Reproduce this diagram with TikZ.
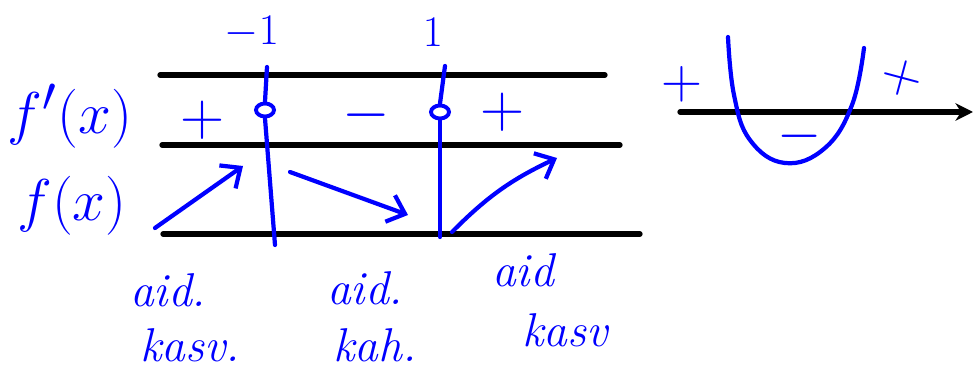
\documentclass[tikz,border=0pt]{standalone}
\usepackage{amsmath}
\usepackage{graphicx}
\usepackage{xcolor}
\usepackage{tikz}
\usetikzlibrary{shapes.geometric, arrows.meta, positioning, calc}

\begin{document}
\begin{tikzpicture}[
    x=0.02cm, y=-0.02cm,
    node distance=0.3cm and 0.5cm,
    rule/.style={draw=black, line width=3pt, line cap=round},
    ink/.style={draw=blue, line width=2.4pt, line cap=round, line join=round},
    sign/.style={text=blue, font=\fontsize{24.88}{28}\selectfont, inner sep=0pt},
    label/.style={text=blue, font=\fontsize{24.88}{28}\selectfont, inner sep=0pt},
    note/.style={text=blue, font=\fontsize{27}{28}\selectfont\itshape, inner sep=0pt},
    trend/.style={ink, -{Straight Barb[length=9pt, width=16pt, line width=2.4pt]}},
    zero/.style={ellipse, draw=blue, line width=2.2pt, minimum width=0.36cm, minimum height=0.26cm, inner sep=0pt}
]
    \useasboundingbox (0,0) rectangle (975,374);

    % Table rows
    \coordinate (r1a) at (160,75);  \coordinate (r1b) at (605,75);
    \coordinate (r2a) at (162,145); \coordinate (r2b) at (620,145);
    \coordinate (r3a) at (163,234); \coordinate (r3b) at (640,234);
    \draw[rule] (r1a) -- (r1b);
    \draw[rule] (r2a) -- (r2b);
    \draw[rule] (r3a) -- (r3b);

    % Zeros of f'
    \node[sign] (xm) at (252,32) {$-1$};
    \node[sign] (xp) at (433,32) {$1$};
    \node[zero] (zm) at (265,110) {};
    \node[zero] (zp) at (440,112) {};
    \coordinate (zmtop) at (267,67);  \coordinate (zmbot) at (275,245);
    \coordinate (zptop) at (445,66);  \coordinate (zpbot) at (440,237);
    \draw[ink] (zmtop) -- (zm.north);
    \draw[ink] (zm.south) -- (zmbot);
    \draw[ink] (zptop) -- (zp.north);
    \draw[ink] (zp.south) -- (zpbot);

    % Row labels
    \node[label] (dfx) at (70,116) {\scalebox{1.35}{$f'(x)$}};
    \node[label] (fx) at (72,206) {\scalebox{1.35}{$f(x)$}};

    % Signs of f'
    \node[sign] (s1) at (203,120) {\scalebox{1.4}{$+$}};
    \node[sign] (s2) at (366,115) {\scalebox{1.4}{$-$}};
    \node[sign] (s3) at (503,112) {\scalebox{1.4}{$+$}};

    % Monotonicity
    \coordinate (a1) at (155,228); \coordinate (b1) at (243,166);
    \coordinate (a2) at (290,172); \coordinate (b2) at (408,215);
    \coordinate (a3) at (452,232); \coordinate (b3) at (557,158);
    \draw[trend] (a1) -- (b1);
    \draw[trend] (a2) -- (b2);
    \draw[trend] (a3) to[bend left=10] (b3);

    \node[note] (n1) at (168,290) {aid.};
    \node[note] (n1b) at (190,345) {kasv.};
    \node[note] (n2) at (365,288) {aid.};
    \node[note] (n2b) at (375,345) {kah.};
    \node[note] (n3) at (523,270) {aid};
    \node[note] (n3b) at (565,330) {kasv};

    % Parabola sketch
    \coordinate (ax0) at (680,112); \coordinate (ax1) at (973,112);
    \draw[rule, -{Stealth[length=10pt, width=10pt]}] (ax0) -- (ax1);
    \draw[ink] plot[smooth, tension=0.7] coordinates
        {(728,37) (734,95) (750,140) (785,163) (825,148) (852,105) (864,48)};
    \node[sign] (p1) at (682,84) {\scalebox{1.3}{$+$}};
    \node[sign, rotate=-15] (p2) at (902,78) {\scalebox{1.3}{$+$}};
    \node[sign] (p3) at (800,136) {\scalebox{1.3}{$-$}};
\end{tikzpicture}
\end{document}
